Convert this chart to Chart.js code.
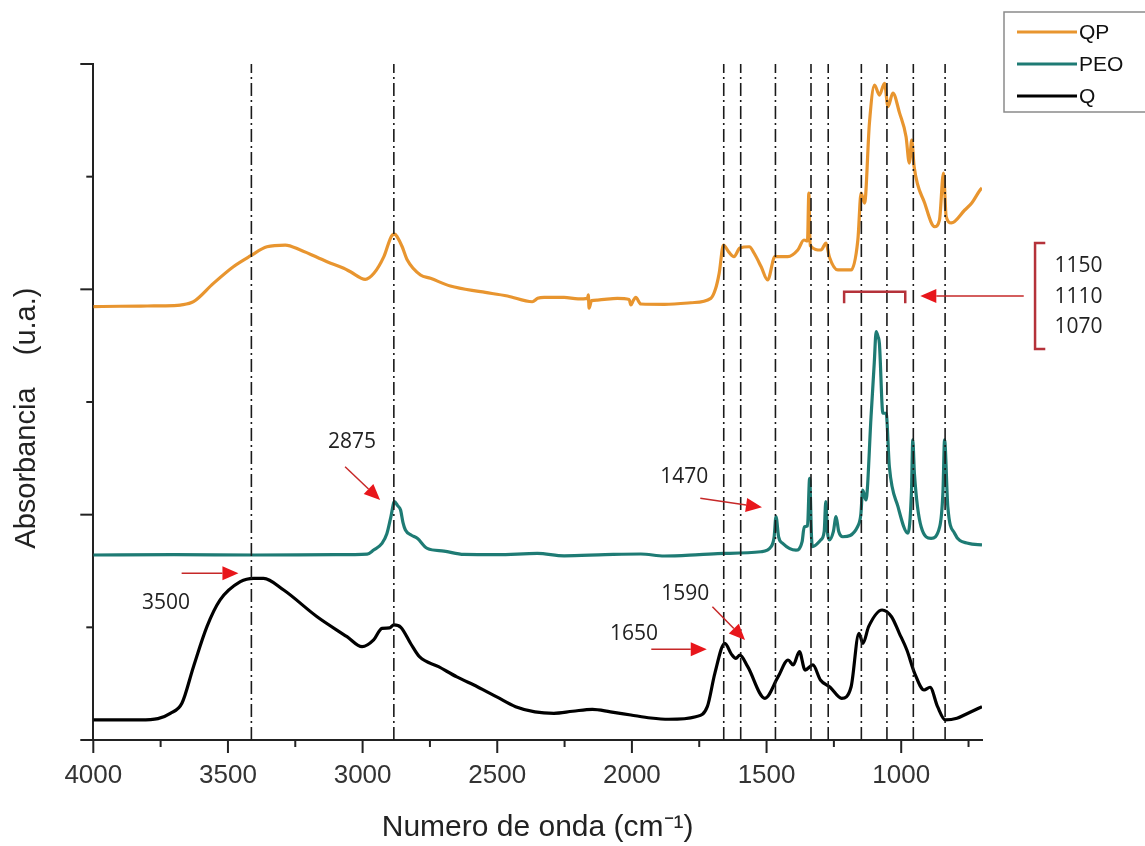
<!DOCTYPE html>
<html>
<head>
<meta charset="utf-8">
<script src="https://cdn.jsdelivr.net/npm/chart.js@4.4.0/dist/chart.umd.min.js"></script>
<style>
  html, body { margin: 0; padding: 0; background: #fff; }
  #wrap { width: 1145px; height: 846px; }
</style>
</head>
<body>
<div id="wrap"><canvas id="ftir" width="1145" height="846"></canvas></div>
<script>
// FTIR spectra, wavenumber (cm-1) vs absorbance (arbitrary units)
var xTickValues = [4000, 3500, 3000, 2500, 2000, 1500, 1000];

var qpWn = [4000, 3900, 3800, 3700, 3677, 3628, 3554, 3480, 3417, 3355, 3287, 3231, 3132, 3070, 3045, 2990, 2958, 2921, 2890, 2880, 2872, 2853, 2834, 2785, 2748, 2674, 2562, 2462, 2370, 2350, 2326, 2252, 2200, 2165, 2162, 2159, 2150, 2128, 2054, 2010, 2004, 1995, 1986, 1967, 1879, 1781, 1707, 1690, 1676, 1660, 1640, 1621, 1599, 1564, 1546, 1520, 1496, 1469, 1421, 1384, 1361, 1348, 1343, 1338, 1298, 1279, 1267, 1235, 1186, 1161, 1149, 1136, 1118, 1099, 1081, 1062, 1049, 1031, 1006, 982, 970, 961, 952, 913, 876, 858, 843, 833, 814, 764, 738, 707, 700];
var qpAbs = [3.846, 3.85, 3.852, 3.855, 3.86, 3.89, 4.053, 4.201, 4.296, 4.378, 4.393, 4.349, 4.245, 4.187, 4.156, 4.089, 4.142, 4.29, 4.482, 4.49, 4.467, 4.378, 4.26, 4.127, 4.098, 4.029, 3.979, 3.941, 3.89, 3.92, 3.929, 3.929, 3.915, 3.92, 3.95, 3.833, 3.9, 3.905, 3.92, 3.91, 3.861, 3.9, 3.929, 3.87, 3.867, 3.881, 3.92, 4.0, 4.142, 4.393, 4.33, 4.29, 4.367, 4.378, 4.32, 4.2, 4.083, 4.29, 4.29, 4.349, 4.438, 4.43, 4.855, 4.39, 4.349, 4.411, 4.29, 4.172, 4.172, 4.438, 4.855, 4.766, 5.476, 5.813, 5.724, 5.829, 5.621, 5.742, 5.564, 5.355, 5.121, 5.325, 5.088, 4.766, 4.556, 4.615, 5.032, 4.645, 4.589, 4.704, 4.766, 4.882, 4.9];

var peoWn = [4000, 3700, 3400, 3100, 2983, 2959, 2928, 2910, 2895, 2882, 2870, 2859, 2850, 2841, 2820, 2797, 2760, 2698, 2624, 2500, 2351, 2252, 2100, 1967, 1880, 1750, 1658, 1521, 1483, 1472, 1465, 1455, 1440, 1391, 1368, 1360, 1348, 1340, 1333, 1330, 1299, 1286, 1280, 1274, 1267, 1252, 1242, 1232, 1217, 1162, 1150, 1143, 1131, 1112, 1100, 1093, 1086, 1081, 1068, 1056, 1044, 1012, 975, 962, 957, 951, 926, 889, 857, 845, 839, 827, 802, 752, 700];
var peoAbs = [1.642, 1.645, 1.642, 1.645, 1.65, 1.686, 1.745, 1.83, 1.98, 2.115, 2.08, 2.041, 1.93, 1.864, 1.82, 1.79, 1.701, 1.677, 1.647, 1.645, 1.656, 1.635, 1.645, 1.651, 1.633, 1.645, 1.656, 1.671, 1.716, 1.8, 1.982, 1.8, 1.746, 1.686, 1.76, 1.893, 1.9, 2.323, 1.8, 1.716, 1.775, 1.85, 2.115, 1.85, 1.775, 1.85, 1.982, 1.85, 1.804, 1.893, 2.0, 2.219, 2.13, 2.869, 3.35, 3.624, 3.58, 3.521, 2.9, 2.9, 2.426, 2.071, 1.835, 2.2, 2.663, 2.367, 1.893, 1.79, 1.893, 2.2, 2.663, 2.071, 1.835, 1.746, 1.731];

var qWn = [4000, 3900, 3826, 3760, 3714, 3671, 3628, 3578, 3529, 3454, 3404, 3368, 3293, 3169, 3058, 3002, 2959, 2928, 2900, 2884, 2858, 2820, 2789, 2718, 2650, 2574, 2500, 2432, 2360, 2290, 2220, 2147, 2080, 2004, 1930, 1863, 1763, 1720, 1692, 1655, 1630, 1614, 1599, 1570, 1506, 1457, 1420, 1401, 1378, 1357, 1328, 1300, 1264, 1221, 1186, 1157, 1142, 1121, 1071, 1036, 1007, 979, 950, 915, 893, 865, 836, 793, 750, 700];
var qAbs = [0.178, 0.178, 0.178, 0.19, 0.237, 0.326, 0.651, 1.006, 1.243, 1.405, 1.435, 1.435, 1.331, 1.094, 0.917, 0.828, 0.888, 0.991, 0.995, 1.021, 1.0, 0.85, 0.739, 0.651, 0.56, 0.473, 0.38, 0.296, 0.25, 0.237, 0.255, 0.272, 0.25, 0.222, 0.195, 0.184, 0.207, 0.296, 0.592, 0.858, 0.76, 0.725, 0.754, 0.651, 0.37, 0.562, 0.71, 0.666, 0.784, 0.621, 0.666, 0.533, 0.468, 0.37, 0.473, 0.947, 0.858, 1.006, 1.154, 1.094, 0.947, 0.799, 0.592, 0.444, 0.468, 0.296, 0.178, 0.193, 0.24, 0.296];

// band positions marked with dash-dot lines
var bandWn = [3413, 2884, 1659, 1596, 1467, 1335, 1271, 1148, 1053, 955, 837];

// annotation text: [label, wavenumber, absorbance]
var peakLabels = [['2875', 3039, 2.645], ['1470', 1806, 2.334], ['3500', 3730, 1.216], ['1590', 1802, 1.296], ['1650', 1992, 0.941], ['1150', 342, 4.207], ['1110', 342, 3.932], ['1070', 342, 3.666]];
// arrows: [fromWn, fromAbs, toWn, toAbs]
var peakArrows = [[3672, 1.48, 3461, 1.48], [3065, 2.426, 2935, 2.13], [1746, 2.145, 1517, 2.065], [1701, 1.183, 1580, 0.888], [1928, 0.805, 1722, 0.805], [545, 3.941, 929, 3.941]];

var FONT = '"Liberation Sans", Arial, sans-serif';

function pts(wn, abs) {
  return wn.map(function (x, i) { return { x: x, y: abs[i] }; });
}

var datasets = [];
bandWn.forEach(function (w) {
  datasets.push({
    data: [{ x: w, y: 0 }, { x: w, y: 6 }],
    borderColor: '#1a1a1a', borderWidth: 1.6, borderDash: [13, 4, 2, 4],
    pointRadius: 0, order: 0
  });
});
datasets.push({ label: 'QP', data: pts(qpWn, qpAbs), borderColor: '#e8952f', borderWidth: 3.2, pointRadius: 0, cubicInterpolationMode: 'monotone', order: 1 });
datasets.push({ label: 'PEO', data: pts(peoWn, peoAbs), borderColor: '#1e7b74', borderWidth: 3.2, pointRadius: 0, cubicInterpolationMode: 'monotone', order: 1 });
datasets.push({ label: 'Q', data: pts(qWn, qAbs), borderColor: '#000000', borderWidth: 3.2, pointRadius: 0, cubicInterpolationMode: 'monotone', order: 1 });

function drawArrow(ctx, x1, y1, x2, y2) {
  var a = Math.atan2(y2 - y1, x2 - x1);
  var hl = 16, hw = 7;
  var bx = x2 - hl * Math.cos(a), by = y2 - hl * Math.sin(a);
  ctx.strokeStyle = '#c62828';
  ctx.lineWidth = 1.5;
  ctx.beginPath(); ctx.moveTo(x1, y1); ctx.lineTo(bx, by); ctx.stroke();
  ctx.fillStyle = '#e8161b';
  ctx.beginPath();
  ctx.moveTo(x2, y2);
  ctx.lineTo(bx + hw * Math.sin(a), by - hw * Math.cos(a));
  ctx.lineTo(bx - hw * Math.sin(a), by + hw * Math.cos(a));
  ctx.closePath(); ctx.fill();
}

var extras = {
  id: 'extras',
  afterDraw: function (chart) {
    var ctx = chart.ctx, xs = chart.scales.x, ys = chart.scales.y;
    var left = chart.chartArea.left, bottom = chart.chartArea.bottom;
    ctx.save();
    // axis ticks, majors and minors, pointing outward
    ctx.strokeStyle = '#222';
    ctx.lineWidth = 2;
    for (var w = 750; w <= 4000; w += 250) {
      var px = xs.getPixelForValue(w), len = (w % 500 === 0) ? 13 : 7;
      ctx.beginPath(); ctx.moveTo(px, bottom); ctx.lineTo(px, bottom + len); ctx.stroke();
    }
    for (var v = 0; v <= 6; v++) {
      var py = ys.getPixelForValue(v), l2 = (v % 2 === 0) ? 13 : 7;
      ctx.beginPath(); ctx.moveTo(left, py); ctx.lineTo(left - l2, py); ctx.stroke();
    }
    // peak labels
    ctx.fillStyle = '#222';
    ctx.font = '21px "Open Sans", ' + FONT;
    ctx.textAlign = 'center';
    ctx.textBaseline = 'middle';
    peakLabels.forEach(function (p) {
      ctx.fillText(p[0], xs.getPixelForValue(p[1]), ys.getPixelForValue(p[2]));
    });
    peakArrows.forEach(function (a) {
      drawArrow(ctx, xs.getPixelForValue(a[0]), ys.getPixelForValue(a[1]), xs.getPixelForValue(a[2]), ys.getPixelForValue(a[3]));
    });
    // brackets
    ctx.strokeStyle = '#b5323a';
    ctx.lineWidth = 2.5;
    var b1 = xs.getPixelForValue(1212), b2 = xs.getPixelForValue(985), by = ys.getPixelForValue(3.979), bd = ys.getPixelForValue(3.876);
    ctx.beginPath(); ctx.moveTo(b1, bd); ctx.lineTo(b1, by); ctx.lineTo(b2, by); ctx.lineTo(b2, bd); ctx.stroke();
    var rx = xs.getPixelForValue(503), rs = xs.getPixelForValue(465), rt = ys.getPixelForValue(4.411), rb = ys.getPixelForValue(3.47);
    ctx.beginPath(); ctx.moveTo(rs, rt); ctx.lineTo(rx, rt); ctx.lineTo(rx, rb); ctx.lineTo(rs, rb); ctx.stroke();
    // legend box
    ctx.strokeStyle = '#8a8a8a';
    ctx.lineWidth = 1.5;
    ctx.strokeRect(1004, 12, 150, 100);
    ctx.font = '21px ' + FONT;
    ctx.textAlign = 'left';
    ['QP', 'PEO', 'Q'].forEach(function (name, i) {
      var ds = chart.data.datasets.find(function (d) { return d.label === name; });
      var ly = 32 + i * 32;
      ctx.strokeStyle = ds.borderColor;
      ctx.lineWidth = 3;
      ctx.beginPath(); ctx.moveTo(1017, ly); ctx.lineTo(1077, ly); ctx.stroke();
      ctx.fillStyle = '#111';
      ctx.fillText(name, 1079, ly + 1);
    });
    ctx.restore();
  }
};

new Chart(document.getElementById('ftir'), {
  type: 'line',
  data: { datasets: datasets },
  options: {
    responsive: false,
    animation: false,
    devicePixelRatio: 1,
    layout: { padding: { left: 0, top: 64, right: 163, bottom: 0 } },
    plugins: { legend: { display: false }, tooltip: { enabled: false } },
    scales: {
      x: {
        type: 'linear',
        reverse: true,
        min: 700,
        max: 4000,
        afterBuildTicks: function (s) { s.ticks = xTickValues.map(function (v) { return { value: v }; }); },
        afterFit: function (s) { s.height = 106; },
        grid: { display: false },
        border: { display: true, color: '#222', width: 2 },
        ticks: { color: '#333', padding: 12, font: { family: FONT, size: 26 }, callback: function (v) { return String(v); } },
        title: { display: true, text: 'Numero de onda (cm\u207B\u00B9)', color: '#222', padding: { top: 0, bottom: 0 }, font: { family: FONT, size: 30 } }
      },
      y: {
        min: 0,
        max: 6,
        afterFit: function (s) { s.width = 93.3; },
        grid: { display: false },
        border: { display: true, color: '#222', width: 2 },
        ticks: { display: false },
        title: { display: true, text: 'Absorbancia    (u.a.)\u00a0\u00a0\u00a0\u00a0', color: '#222', padding: { top: 10, bottom: 0 }, font: { family: FONT, size: 29 } }
      }
    }
  },
  plugins: [extras]
});
</script>
</body>
</html>
